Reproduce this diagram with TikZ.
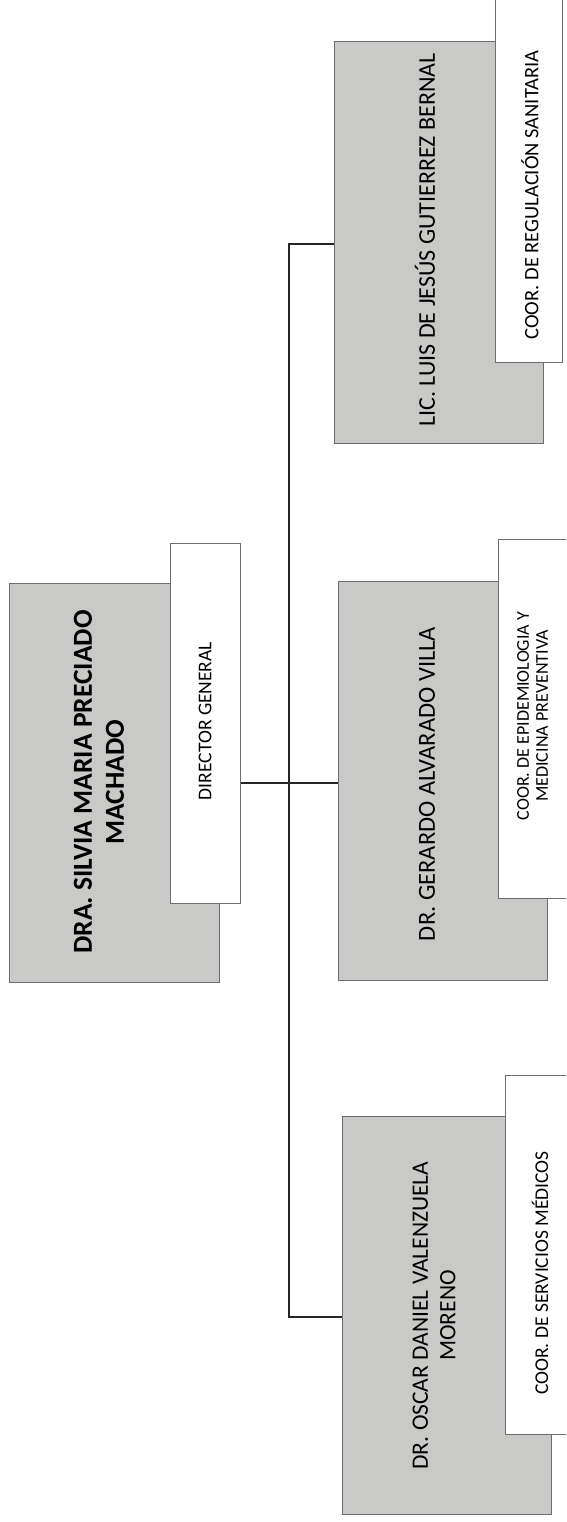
\documentclass[tikz,border=0pt]{standalone}
\usepackage{fontspec}
\setmainfont{Carlito}
\definecolor{boxgray}{RGB}{201,202,200}
\definecolor{edgegray}{RGB}{110,110,110}
\begin{document}
\begin{tikzpicture}[x=1pt,y=-1pt,
  graybox/.style={draw=edgegray, line width=0.5pt, fill=boxgray, inner sep=0pt, anchor=north west},
  whitebox/.style={draw=edgegray, line width=0.5pt, fill=white, inner sep=0pt, anchor=north west},
  nametext/.style={rotate=90, align=center, inner sep=0pt, text=black},
  conn/.style={draw=black!85, line width=1.1pt}]
\useasboundingbox (0,0) rectangle (566,1522);
\clip (0,0) rectangle (566,1522);
\fill[white] (0,0) rectangle (566,1522);
\coordinate (jt) at (289,244);
\coordinate (jm) at (289,783);
\coordinate (jb) at (289,1317);
% boxes
\node[graybox, minimum width=209pt, minimum height=402pt] (lic) at (334,41) {};
\node[whitebox, minimum width=67pt, minimum height=367pt] (reg) at (495,-5) {};
\node[graybox, minimum width=210pt, minimum height=399pt] (dra) at (9,583) {};
\node[whitebox, minimum width=70pt, minimum height=360pt] (dir) at (170,543) {};
\node[graybox, minimum width=209pt, minimum height=399pt] (ger) at (338,581) {};
\node[whitebox, minimum width=72pt, minimum height=359pt] (epi) at (498,539) {};
\node[graybox, minimum width=209pt, minimum height=398pt] (osc) at (342,1116) {};
\node[whitebox, minimum width=65pt, minimum height=359pt] (ser) at (505,1075) {};
% texts
\node[nametext, font=\fontsize{24}{28}\selectfont] (licT) at (425,240) {LIC. LUIS DE JESÚS GUTIERREZ BERNAL};
\node[nametext, font=\fontsize{20.5}{24}\selectfont] (regT) at (530,195) {COOR. DE REGULACIÓN SANITARIA};
\node[nametext, font=\fontsize{27.5}{32}\selectfont\bfseries] (draT) at (99,782) {DRA. SILVIA MARIA PRECIADO\\MACHADO};
\node[nametext, font=\fontsize{19.5}{23}\selectfont] (dirT) at (205,721) {DIRECTOR GENERAL};
\node[nametext, font=\fontsize{24.5}{28}\selectfont] (gerT) at (427,784) {DR. GERARDO ALVARADO VILLA};
\node[nametext, font=\fontsize{18}{19}\selectfont] (epiT) at (532.5,716) {COOR. DE EPIDEMIOLOGIA Y\\MEDICINA PREVENTIVA};
\node[nametext, font=\fontsize{23.5}{27.5}\selectfont] (oscT) at (434,1315.5) {DR. OSCAR DANIEL VALENZUELA\\MORENO};
\node[nametext, font=\fontsize{19.5}{23}\selectfont] (serT) at (540,1273) {COOR. DE SERVICIOS MÉDICOS};
% connectors
\draw[conn] (lic.west |- jt) -- (jt) -- (jb) -- (osc.west |- jb);
\draw[conn] (dir.east |- jm) -- (ger.west |- jm);
\end{tikzpicture}
\end{document}
